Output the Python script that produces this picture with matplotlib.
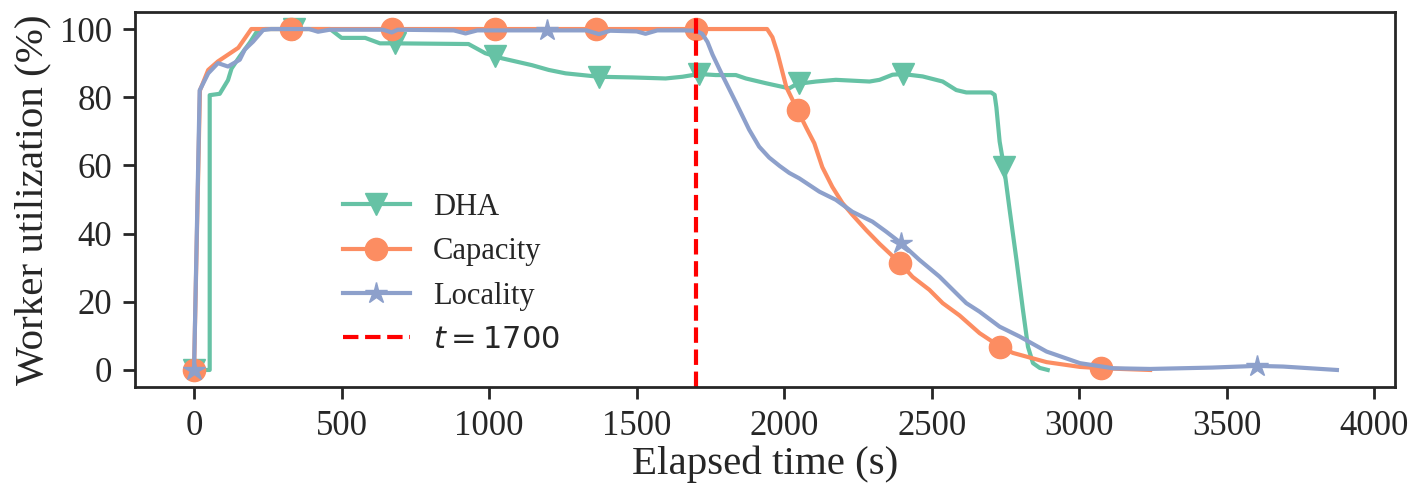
import numpy as np
import matplotlib
matplotlib.use("Agg")
import matplotlib.pyplot as plt

# ---------------- data ----------------
dha_x = [0, 53, 53, 87, 115, 127, 155, 172, 189, 211, 240, 338, 461, 500, 580, 630, 682,
         930, 987, 1021, 1044, 1145, 1202, 1259, 1372, 1485, 1598, 1655, 1711, 1768, 1836,
         1870, 1938, 2017, 2051, 2062, 2108, 2175, 2289, 2323, 2367, 2402, 2469, 2537, 2583,
         2617, 2701, 2713, 2719, 2730, 2745, 2764, 2787, 2809, 2826, 2843, 2866, 2893]
dha_y = [0, 0, 80.6, 81, 85, 88.4, 92, 94, 96, 99, 100, 100, 100, 97.4, 97.4, 95.8, 95.8,
         95.6, 92.9, 92, 91.4, 89.4, 88, 87, 86, 85.8, 85.5, 86, 86.8, 86.5, 86.5,
         85.5, 84.1, 82.6, 84.3, 84.1, 84.6, 85.1, 84.6, 85.1, 86.6, 86.8, 86.1, 84.6, 82.1,
         81.4, 81.4, 80.7, 77, 67, 59.4, 46.9, 32.3, 17.6, 6.8, 2, 0.6, 0]
dha_marks = [0, 338, 682, 1021, 1372, 1711, 2051, 2402, 2745]

cap_x = [0, 20, 48, 81, 150, 194, 330, 670, 1021, 1361, 1700, 1942, 1960, 1977, 2007, 2045,
         2075, 2102, 2129, 2163, 2197, 2231, 2278, 2323, 2393, 2435, 2492, 2537, 2594, 2662,
         2732, 2775, 2889, 3002, 3075, 3240]
cap_y = [0, 82, 88, 90.5, 94.5, 100, 100, 100, 100, 100, 100, 100, 97.6, 93, 83, 76.2,
         71, 66.5, 59.5, 53.7, 49, 45.5, 41, 37, 31.3, 27.3, 23.5, 19.6, 16, 10.8,
         6.8, 5, 2.3, 0.9, 0.5, 0]
cap_marks = [0, 330, 670, 1021, 1361, 1700, 2045, 2393, 2732, 3075]

loc_x = [0, 19, 48, 81, 115, 155, 172, 200, 234, 260, 390, 420, 460, 640, 670, 690, 880,
         920, 960, 1195, 1330, 1372, 1410, 1500, 1530, 1570, 1660, 1700, 1722, 1740, 1757,
         1790, 1836, 1881, 1915, 1949, 1985, 2017, 2051, 2119, 2175, 2231, 2299, 2345, 2396,
         2458, 2526, 2583, 2617, 2662, 2730, 2798, 2889, 3002, 3115, 3240, 3450, 3602, 3691,
         3873]
loc_y = [0, 82, 87, 90, 89, 91, 94, 96.3, 99.7, 100, 100, 99.2, 99.8, 99.8, 99.0, 99.8, 99.6,
         98.7, 99.6, 99.6, 99.6, 98.5, 99.5, 99.3, 98.6, 99.6, 99.6, 99.5, 98.6, 96.2, 92.5,
         86.5, 78.5, 70.5, 65.5, 62.3, 59.8, 57.8, 56.2, 52.3, 49.9, 46.4, 43.5, 40.6, 37.2,
         32.3, 27.4, 22.5, 19.6, 17.1, 12.7, 9.8, 5.4, 2, 0.5, 0.3, 0.7, 1.2, 1,
         0]
loc_marks = [0, 1195, 2396, 3602]

t_cut = 1700

# ---------------- style ----------------
plt.rcParams['font.family'] = ['Liberation Serif', 'DejaVu Serif']
plt.rcParams['mathtext.fontset'] = 'dejavusans'

c_dha, c_cap, c_loc = '#66c2a5', '#fc8d62', '#8da0cb'
spine_c = '#262626'

fig = plt.figure(figsize=(14.14, 4.97), dpi=100)
ax = fig.add_axes([0.0955, 0.2213, 0.8911, 0.7546])


def idx_of(xs, marks):
    xs = np.asarray(xs)
    return [int(np.argmin(np.abs(xs - m))) for m in marks]


lw = 3.0
ms = 16
ax.plot(dha_x, dha_y, color=c_dha, lw=lw, marker='v', ms=ms,
        markevery=idx_of(dha_x, dha_marks), label='DHA')
ax.plot(cap_x, cap_y, color=c_cap, lw=lw, marker='o', ms=ms,
        markevery=idx_of(cap_x, cap_marks), label='Capacity')
ax.plot(loc_x, loc_y, color=c_loc, lw=lw, marker='*', ms=ms,
        markevery=idx_of(loc_x, loc_marks), label='Locality')
ax.axvline(t_cut, color='red', ls='--', lw=3, label=r'$t = 1700$')

ax.set_xlim(-200, 4070)
ax.set_ylim(-5, 105)
ax.set_xticks([0, 500, 1000, 1500, 2000, 2500, 3000, 3500, 4000])
ax.set_yticks([0, 20, 40, 60, 80, 100])

for s in ax.spines.values():
    s.set_linewidth(2.0)
    s.set_color(spine_c)
ax.tick_params(direction='out', length=8.5, width=2.0, color=spine_c,
               labelsize=25, labelcolor=spine_c, pad=8)
ax.set_xlabel('Elapsed time (s)', fontsize=29.5, color=spine_c, labelpad=2)
ax.set_ylabel('Worker utilization (%)', fontsize=29.5, color=spine_c, labelpad=6)

leg = ax.legend(loc='upper left', bbox_to_anchor=(0.155, 0.55), frameon=False,
                fontsize=22, handlelength=2.2, handletextpad=0.75, labelspacing=0.5,
                borderaxespad=0)
for t in leg.get_texts():
    t.set_color(spine_c)

fig.savefig('out.png', dpi=100)
